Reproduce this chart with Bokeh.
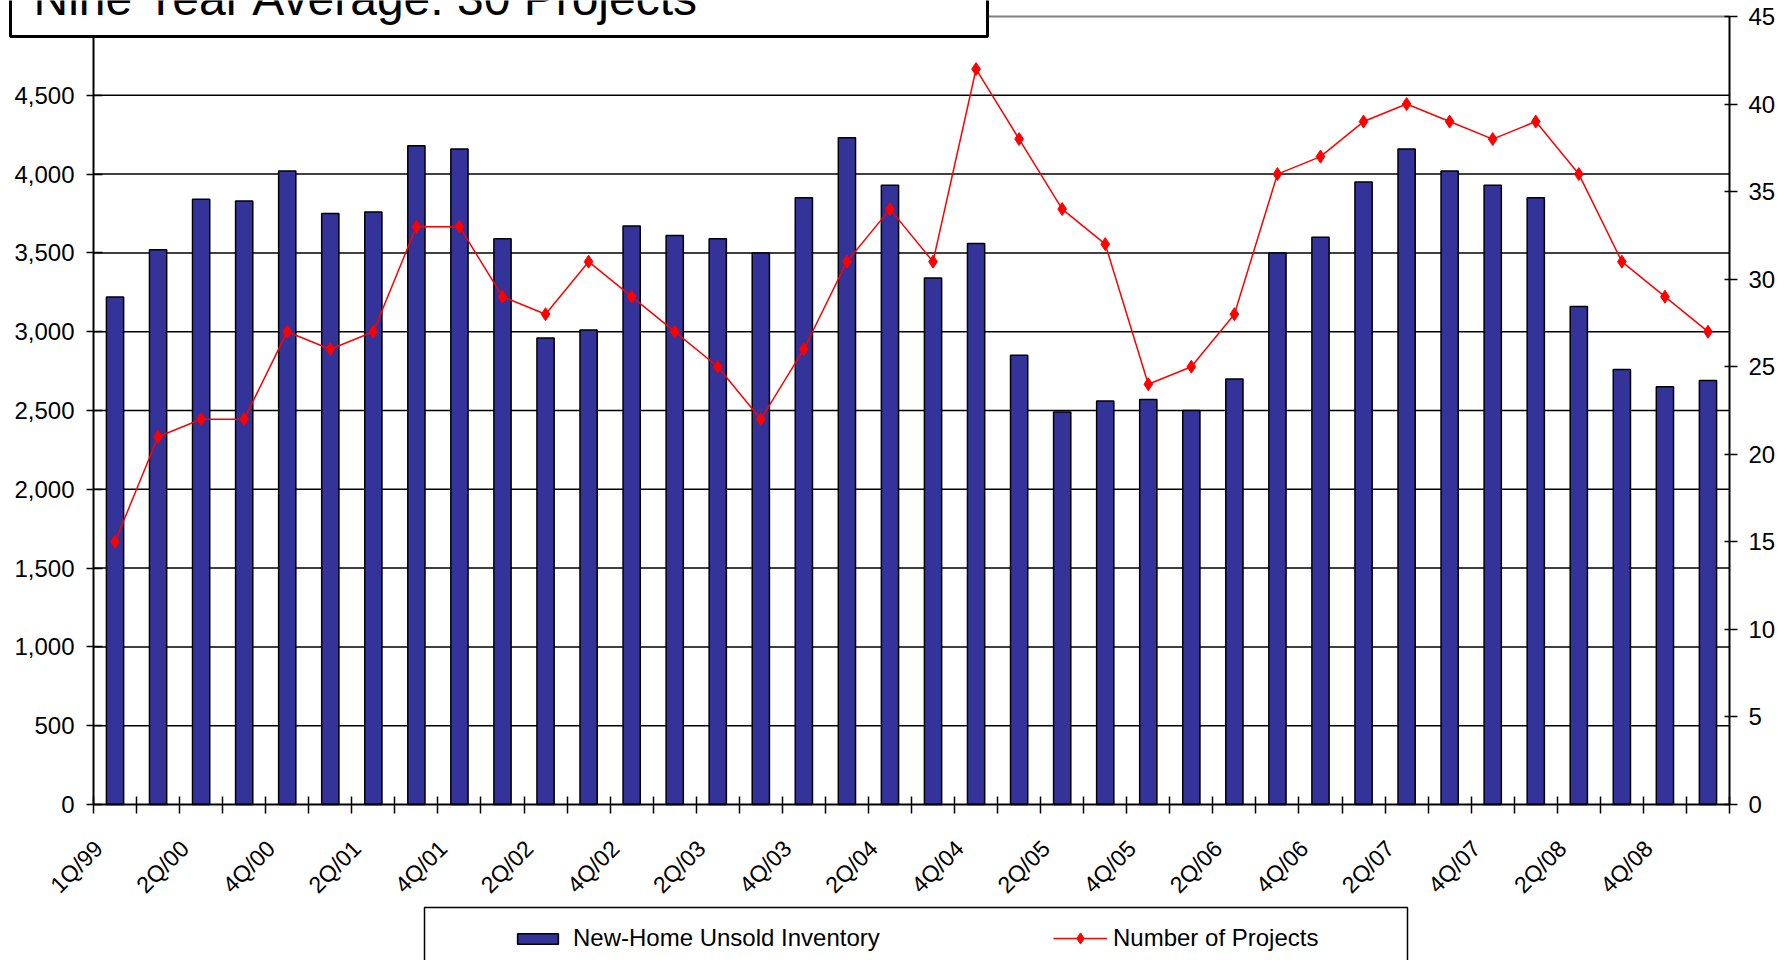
from math import pi
from bokeh.plotting import figure
from bokeh.models import (Range1d, LinearAxis, FixedTicker, NumeralTickFormatter,
                          ColumnDataSource, Legend, LegendItem, BoxAnnotation, Label)
from bokeh.embed import file_html
from bokeh.resources import INLINE

# ---------------- data ----------------
quarters = ["1Q/99", "1Q/00", "2Q/00", "3Q/00", "4Q/00",
            "1Q/01", "2Q/01", "3Q/01", "4Q/01",
            "1Q/02", "2Q/02", "3Q/02", "4Q/02",
            "1Q/03", "2Q/03", "3Q/03", "4Q/03",
            "1Q/04", "2Q/04", "3Q/04", "4Q/04",
            "1Q/05", "2Q/05", "3Q/05", "4Q/05",
            "1Q/06", "2Q/06", "3Q/06", "4Q/06",
            "1Q/07", "2Q/07", "3Q/07", "4Q/07",
            "1Q/08", "2Q/08", "3Q/08", "4Q/08",
            "1Q/09"]
inventory = [3220, 3520, 3840, 3830, 4020, 3750, 3760, 4180, 4160, 3590,
             2960, 3010, 3670, 3610, 3590, 3500, 3850, 4230, 3930, 3340,
             3560, 2850, 2490, 2560, 2570, 2500, 2700, 3500, 3600, 3950,
             4160, 4020, 3930, 3850, 3160, 2760, 2650, 2690]
projects = [15, 21, 22, 22, 27, 26, 27, 33, 33, 29,
            28, 31, 29, 27, 25, 22, 26, 31, 34, 31,
            42, 38, 34, 32, 24, 25, 28, 36, 37, 39,
            40, 39, 38, 39, 36, 31, 29, 27]
inv_ticks = [0, 500, 1000, 1500, 2000, 2500, 3000, 3500, 4000, 4500]
proj_ticks = [0, 5, 10, 15, 20, 25, 30, 35, 40, 45]
inv_max = 5000
proj_max = 45
title_text = "Nine Year Average:  30 Projects"
inv_name = "New-Home Unsold Inventory"
proj_name = "Number of Projects"

# ---------------- layout (page pixels) ----------------
W, H = 1785, 960
PL, PR, PT, PB = 93, 1729, 16, 804      # plot area
FONT = "Liberation Sans"
RED = "#ff0000"
n = len(quarters)
px_bin = (PR - PL) / n
px_inv = (PB - PT) / inv_max
px_proj = (PB - PT) / proj_max

x_range = Range1d(-PL / px_bin, n + (W - PR) / px_bin)
y_range = Range1d(-(H - PB) / px_inv, inv_max + PT / px_inv)
proj_range = Range1d(-(H - PB) / px_proj, proj_max + PT / px_proj)

src = ColumnDataSource(dict(x=[i + 0.5 for i in range(n)], quarter=quarters,
                            inv=inventory, proj=projects))

p = figure(width=W, height=H, output_backend="svg", toolbar_location=None,
           x_range=x_range, y_range=y_range, min_border=0,
           background_fill_color="white", border_fill_color="white")
p.extra_y_ranges = {"proj": proj_range}
p.outline_line_color = None
p.xgrid.visible = False
p.ygrid.visible = False

# horizontal grid lines and top border of the plot area
grid_src = ColumnDataSource(dict(y=inv_ticks[1:]))
p.segment(x0=0, x1=n, y0="y", y1="y", source=grid_src,
          line_color="black", line_width=1.5, level="underlay")
p.segment(x0=[0], x1=[n], y0=[inv_max], y1=[inv_max],
          line_color="#808080", line_width=2, level="underlay")

# x axis
XSHIFT = 0.38
xa = p.xaxis[0]
xa.fixed_location = 0
xa.bounds = (0, n)
label_pos = [i + 0.5 - XSHIFT for i in range(0, n - 1, 2)]
overrides = {}
for i in range(0, n - 1, 2):
    pos = i + 0.5 - XSHIFT
    overrides[pos] = quarters[i]
    overrides[str(pos)] = quarters[i]
xa.ticker = FixedTicker(ticks=label_pos, minor_ticks=list(range(n + 1)))
xa.major_label_overrides = overrides
xa.major_tick_in = 0
xa.major_tick_out = 0
xa.minor_tick_in = 8
xa.minor_tick_out = 9
xa.minor_tick_line_color = "black"
xa.minor_tick_line_width = 1.5
xa.axis_line_color = "black"
xa.axis_line_width = 2
xa.major_label_orientation = pi / 4
xa.major_label_standoff = 31
xa.major_label_text_font = FONT
xa.major_label_text_font_size = "23px"
xa.major_label_text_color = "black"

# left axis
ya = p.yaxis[0]
ya.fixed_location = 0
ya.bounds = (0, inv_max)
ya.ticker = FixedTicker(ticks=inv_ticks)
ya.formatter = NumeralTickFormatter(format="0,0")
ya.major_tick_in = 9
ya.major_tick_out = 7
ya.major_tick_line_color = "black"
ya.major_tick_line_width = 1.5
ya.minor_tick_line_color = None
ya.axis_line_color = "black"
ya.axis_line_width = 2
ya.major_label_standoff = 12
ya.major_label_text_font = FONT
ya.major_label_text_font_size = "24px"
ya.major_label_text_color = "black"

# right axis
ra = LinearAxis(y_range_name="proj", ticker=FixedTicker(ticks=proj_ticks),
                fixed_location=n, bounds=(0, proj_max))
ra.major_tick_in = 5
ra.major_tick_out = 8
ra.major_tick_line_color = "black"
ra.major_tick_line_width = 1.5
ra.minor_tick_line_color = None
ra.axis_line_color = "black"
ra.axis_line_width = 2
ra.major_label_standoff = 11
ra.major_label_text_font = FONT
ra.major_label_text_font_size = "24px"
ra.major_label_text_color = "black"
p.add_layout(ra, "right")

# glyphs
bars = p.vbar(x="x", top="inv", width=0.4, source=src,
              fill_color="#333399", line_color="black", line_width=1.5)
line = p.line(x="x", y="proj", source=src, y_range_name="proj",
              line_color=RED, line_width=1.5)
marks = p.scatter(x="x", y="proj", source=src, y_range_name="proj",
                  marker="diamond", size=13, fill_color=RED, line_color=RED)

# legend box + legends (screen px, measured from the bottom-left of the canvas)
leg_box = BoxAnnotation(left=424, right=1407, top=H - 907, bottom=-60,
                        left_units="screen", right_units="screen",
                        top_units="screen", bottom_units="screen",
                        fill_color="white", fill_alpha=1.0,
                        line_color="black", line_alpha=1.0, line_width=1.5,
                        level="underlay")
p.add_layout(leg_box)

common = dict(padding=0, margin=0, spacing=0, border_line_alpha=0,
              background_fill_alpha=0, label_text_font=FONT,
              label_text_font_size="24px", label_text_color="black",
              orientation="horizontal")
leg1 = Legend(items=[LegendItem(label=inv_name, renderers=[bars])],
              location=(512, H - 952), glyph_width=51, glyph_height=13,
              label_standoff=10, label_height=13, **common)
leg2 = Legend(items=[LegendItem(label=proj_name, renderers=[line, marks])],
              location=(1053, H - 952), glyph_width=54, glyph_height=28,
              label_standoff=6, label_height=13, **common)
p.add_layout(leg1)
p.add_layout(leg2)

# title box
title_box = BoxAnnotation(left=10, right=987, top=H + 40, bottom=H - 36,
                          left_units="screen", right_units="screen",
                          top_units="screen", bottom_units="screen",
                          fill_color="white", fill_alpha=1.0,
                          line_color="black", line_alpha=1.0, line_width=3,
                          level="overlay")
p.add_layout(title_box)
title = Label(x=33, y=H + 2, x_units="screen", y_units="screen",
              text=title_text, text_font=FONT, text_font_size="48px",
              text_baseline="alphabetic", text_color="black", level="overlay")
p.add_layout(title)

open("out.html", "w").write(file_html(p, INLINE))
